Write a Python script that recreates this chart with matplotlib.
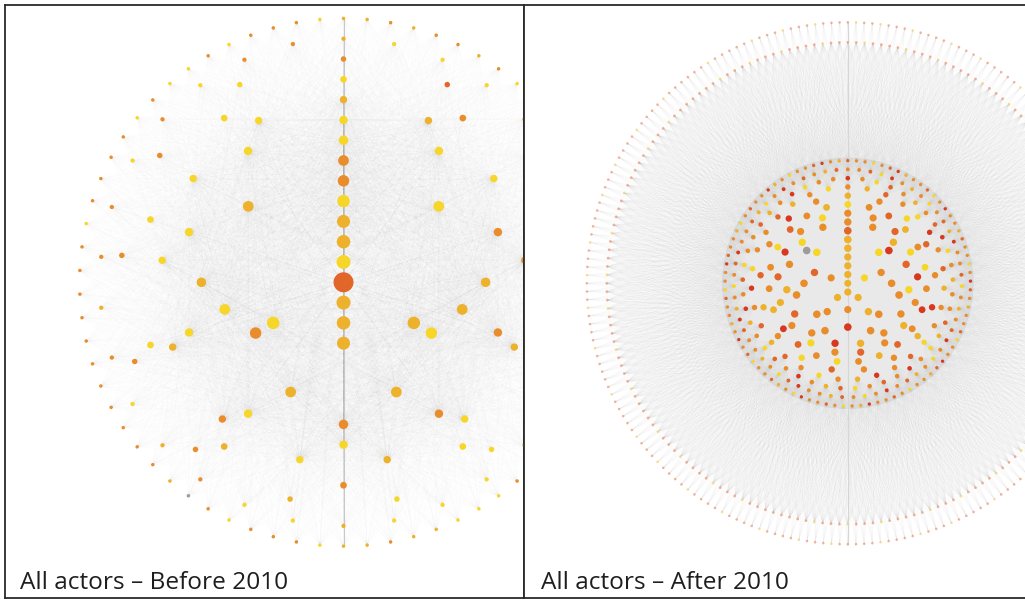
import numpy as np
import matplotlib
matplotlib.use("Agg")
import matplotlib.pyplot as plt
from matplotlib.collections import LineCollection
from matplotlib.patches import Circle

# ---------------------------------------------------------------------------
# Network data: nodes sit on concentric levels (ring index), evenly spaced
# around each ring starting at 12 o'clock.  One colour code per node.
# ---------------------------------------------------------------------------

# Before 2010: nodes per level (level 0 = hub at the centre)
before_counts = [1, 2, 2, 2, 3, 3, 7, 4, 10, 13, 10, 13, 30, 70]
before_colors = [
    "d",
    "yg",
    "gg",
    "gg",
    "ygy",
    "oyo",
    "oygggyg",
    "ygog",
    "yyoooyyyyy",
    "ggyogygyogyyy",
    "yogoyogyyy",
    "odyogyygooooy",
    "gyyy" "oygoyyog" "yyygyyogyogooyoyoo",
    "ggogoogoy" "oyogoyoogyoogoyoog" "oyyyggogg" "yoooyoxgooooooooo" "ooyooooyoyyoyoooy",
]
before_diam = [20, 14, 13.5, 13, 12.5, 11.5, 10.7, 9.5, 8.4, 7.4, 6.7, 5.5, 4.3, 3.5]

# After 2010: dense core
after_counts = [1, 2, 5, 2, 5, 8, 7, 15, 17, 23, 17, 31, 45, 63, 89]
after_colors = [
    "g",
    "gg",
    "gyggo",
    "go",
    "gogod",
    "gyoorooy",
    "droooox",
    "oogdyoogrodgoyo",
    "oodyrogodoyogdroy",
    "yodgoyorodgoyodrgooydog",
    "goydorgoodyogdoro",
    "ogdoyrodgooydorgoyodgdoryoodgoy",
    "roydogodryogood" "gyorodoydgorody" "ogrodyoodgoryoo",
    "oodyrogoyodgroo" "dyogodroyogdoro" "yodgoordyogoodr" "goyodroodgyorod" "ogd",
    "dooyodrgoodyoro" "ogdooyordogoody" "oordgooyodoorgo" "yodooryogdooydo"
    "rogoodyoordoogy" "odoorgoyoodrog",
]
after_diam = [7.0, 7.2, 7.2, 7.2, 7.4, 7.6, 7.6, 7.4, 7.2, 6.8, 6.4, 5.4, 4.6, 3.9, 3.3]

# After 2010: two sparse outer rings of peripheral actors
outer_a_colors = (
    "pqppqpppqppppqpppqpp" "pppqppqpppppqpppqppp" "qpppppqpppqpppppqppp"
    "ppqppppqppppqppqpppp" "pqpppppqpppqppppqppp" "ppqpppqppppqppppqppp"
    "pqppppqpppqpppppqppp" "ppqppppqpppqpppqpppp" "pqpppqppppqppppqpppp"
    "ppqpppppqpppqpppqppp"
)
outer_b_colors = (
    "ppqppppqpppqpppppqpp" "pqppppqppppqpppqpppp" "pppqpppqppppqpppppqp"
    "ppqppppqpppqppppqppp" "qpppppqpppqpppqppppp" "pppqpppqppppqpppqppp"
    "ppqppppqppppqpppqppp" "pqppppqpppppqpppqppp" "ppppqpppqpppqppppqpp"
)

PALETTE = {
    "y": "#F7D62A",
    "g": "#EDB12C",
    "o": "#E98D2C",
    "d": "#E2662A",
    "r": "#D8381F",
    "x": "#9C9C9C",
    "p": "#EFA084",
    "q": "#F3D777",
}

titles = ["All actors \u2013 Before 2010", "All actors \u2013 After 2010"]

for cnt, cols in ((before_counts, before_colors), (after_counts, after_colors)):
    for lvl, (n, s) in enumerate(zip(cnt, cols)):
        if n != len(s):
            raise ValueError(f"level {lvl}: {n} nodes but {len(s)} colours")

W, H, DPI = 1025, 600, 100


def ring_layout(counts, cx, cy, unit):
    xs, ys, lv = [], [], []
    for level, n in enumerate(counts):
        ang = np.deg2rad(np.arange(n) * 360.0 / n)
        r = level * unit
        xs.append(cx + r * np.sin(ang))
        ys.append(cy - r * np.cos(ang))
        lv.append(np.full(n, level))
    return np.concatenate(xs), np.concatenate(ys), np.concatenate(lv)


def circle_layout(n, cx, cy, r):
    ang = np.deg2rad(np.arange(n) * 360.0 / n)
    return cx + r * np.sin(ang), cy - r * np.cos(ang)


def bearing(x, y, cx, cy):
    return np.arctan2(np.asarray(x) - cx, -(np.asarray(y) - cy))


def fan_links(sx, sy, tx, ty, cx, cy, window, max_links):
    """Link every source node to the nearest-in-angle target nodes."""
    ta = bearing(tx, ty, cx, cy)
    out = []
    for x, y in zip(sx, sy):
        a = bearing(x, y, cx, cy)
        d = np.abs(np.angle(np.exp(1j * (ta - a))))
        idx = np.where(d < window)[0]
        idx = idx[np.argsort(d[idx])][:max_links]
        out.extend([(x, y), (tx[j], ty[j])] for j in idx)
    return out


def px_to_pt2(d):
    return (d * 72.0 / DPI) ** 2


fig = plt.figure(figsize=(W / DPI, H / DPI), dpi=DPI)
fig.patch.set_facecolor("white")


def panel(x0, x1, y0=4.5, y1=597.5, right_spine=True):
    ax = fig.add_axes([x0 / W, 1 - y1 / H, (x1 - x0) / W, (y1 - y0) / H])
    ax.set_xlim(x0, x1)
    ax.set_ylim(y1, y0)
    ax.set_xticks([])
    ax.set_yticks([])
    for sp in ax.spines.values():
        sp.set_color("#2a2a2a")
        sp.set_linewidth(1.3)
    if not right_spine:
        ax.spines["right"].set_visible(False)
    return ax


TITLE_FONT = dict(fontsize=17.6, family="Open Sans", color="#1e1e1e",
                  ha="left", va="baseline")

# ------------------------------ Before 2010 ---------------------------------
ax1 = panel(4.5, 523.5)
cx1, cy1, unit1 = 343.5, 282.3, 20.3
bx, by, bl = ring_layout(before_counts, cx1, cy1, unit1)
bcol = [PALETTE[c] for c in "".join(before_colors)]
bsize = [px_to_pt2(before_diam[l]) for l in bl]

mid = (bl >= 3) & (bl <= 9)
outer = bl >= 6
segs = fan_links(bx[outer], by[outer], bx[mid], by[mid], cx1, cy1,
                 window=np.pi + 0.01, max_links=60)
ax1.add_collection(LineCollection(segs, colors="#9a9a9a", linewidths=0.35,
                                  alpha=0.016, zorder=1))
ax1.plot([cx1, cx1], [cy1 - 13 * unit1, cy1 + 13 * unit1], color="#c8c8c8",
         lw=0.8, zorder=1.5)
ax1.scatter(bx, by, s=bsize, c=bcol, linewidths=0, zorder=3)
ax1.text(20, 589, titles[0], **TITLE_FONT)

# ------------------------------ After 2010 ----------------------------------
ax2 = panel(523.5, 1025, right_spine=False)
cx2, cy2, unit2 = 847.8, 283.3, 8.76
ax_, ay_, al_ = ring_layout(after_counts, cx2, cy2, unit2)
acol = [PALETTE[c] for c in "".join(after_colors)]
asize = [px_to_pt2(after_diam[l]) for l in al_]

oax, oay = circle_layout(len(outer_a_colors), cx2, cy2, 261)
obx, oby = circle_layout(len(outer_b_colors), cx2, cy2, 241)

# dense core tie cloud
core_r = (len(after_counts) - 1) * unit2
ax2.add_patch(Circle((cx2, cy2), core_r + 3, facecolor="#e9e9e9",
                     edgecolor="none", zorder=0.5))

rimsel = al_ >= len(after_counts) - 4
segs2 = fan_links(obx, oby, ax_[rimsel], ay_[rimsel], cx2, cy2,
                  window=0.7, max_links=40)
segs2 += fan_links(oax, oay, ax_[rimsel], ay_[rimsel], cx2, cy2,
                   window=0.6, max_links=16)
ax2.add_collection(LineCollection(segs2, colors="#8a8a8a", linewidths=0.3,
                                  alpha=0.023, zorder=1))
ax2.plot([cx2, cx2], [cy2 - 261, cy2 + 261], color="#d6d6d6", lw=0.8, zorder=1.5)

ax2.scatter(oax, oay, s=px_to_pt2(2.6), c=[PALETTE[c] for c in outer_a_colors],
            linewidths=0, zorder=3, alpha=0.8)
ax2.scatter(obx, oby, s=px_to_pt2(2.8), c=[PALETTE[c] for c in outer_b_colors],
            linewidths=0, zorder=3, alpha=0.8)
ax2.scatter(ax_, ay_, s=asize, c=acol, linewidths=0, zorder=3)
ax2.text(541, 589, titles[1], **TITLE_FONT)

fig.savefig("out.png", dpi=DPI, facecolor="white")
